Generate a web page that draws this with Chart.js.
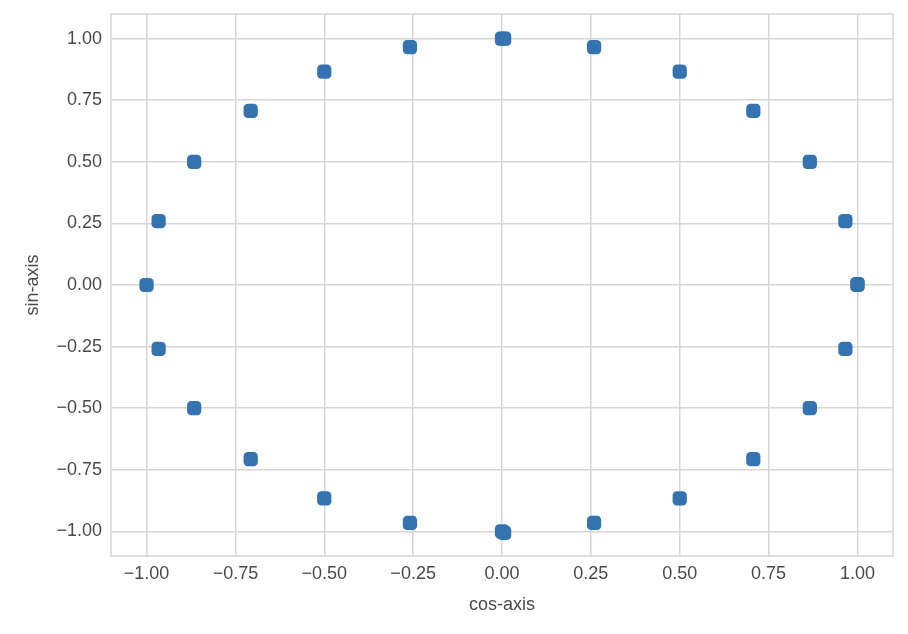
<!DOCTYPE html>
<html>
<head>
<meta charset="utf-8">
<script src="https://cdn.jsdelivr.net/npm/chart.js@4"></script>
<style>
  html, body { margin: 0; padding: 0; background: #fff; }
  #c { display: block; }
</style>
</head>
<body>
<canvas id="c" width="908" height="634"></canvas>
<script>
// Points (unit circle, every 15 degrees; a few points overlap)
const cosValues = [1.00, 0.966, 0.866, 0.707, 0.50, 0.259, 0.00, -0.259, -0.50, -0.707, -0.866, -0.966, -1.00,
                   -0.966, -0.866, -0.707, -0.50, -0.259, 0.00, 0.259, 0.50, 0.707, 0.866, 0.966,
                   1.00, 0.006, 0.006];
const sinValues = [0.00, 0.259, 0.50, 0.707, 0.866, 0.966, 1.00, 0.966, 0.866, 0.707, 0.50, 0.259, 0.00,
                   -0.259, -0.50, -0.707, -0.866, -0.966, -1.00, -0.966, -0.866, -0.707, -0.50, -0.259,
                   0.004, 1.00, -1.006];
const xTickValues = [-1.00, -0.75, -0.50, -0.25, 0.00, 0.25, 0.50, 0.75, 1.00];
const yTickValues = [-1.00, -0.75, -0.50, -0.25, 0.00, 0.25, 0.50, 0.75, 1.00];
const xLabel = 'cos-axis';
const yLabel = 'sin-axis';

const points = cosValues.map((x, i) => ({ x: x, y: sinValues[i] }));

const fmt = v => (v < 0 ? '\u2212' : '') + Math.abs(v).toFixed(2);
const FONT = "'Liberation Sans', Arial, sans-serif";
const TXT = '#4a4a4a';
const GRID = '#d6d6d6';

const framePlugin = {
  id: 'frame',
  beforeDatasetsDraw(chart) {
    const a = chart.chartArea, ctx = chart.ctx;
    ctx.save();
    ctx.strokeStyle = GRID;
    ctx.lineWidth = 1.5;
    ctx.strokeRect(a.left, a.top, a.right - a.left, a.bottom - a.top);
    ctx.restore();
  }
};

new Chart(document.getElementById('c'), {
  type: 'scatter',
  data: {
    datasets: [{
      data: points,
      pointStyle: 'rectRounded',
      pointRadius: 8.3,
      pointHoverRadius: 8.3,
      backgroundColor: '#3572b0',
      borderColor: '#3572b0',
      borderWidth: 0
    }]
  },
  plugins: [framePlugin],
  options: {
    responsive: false,
    animation: false,
    layout: { padding: { left: 0, right: 15, top: 14, bottom: 0 } },
    plugins: { legend: { display: false }, tooltip: { enabled: false } },
    scales: {
      x: {
        type: 'linear',
        min: -1.1, max: 1.1,
        afterBuildTicks: s => { s.ticks = xTickValues.map(v => ({ value: v })); },
        afterFit: s => { s.height = 78; s.paddingLeft = 0; s.paddingRight = 0; },
        grid: { color: GRID, lineWidth: 1.5, drawTicks: false },
        border: { display: false },
        ticks: { padding: 7, color: TXT, font: { family: FONT, size: 18 }, callback: v => fmt(v), maxRotation: 0 },
        title: { display: true, text: xLabel, color: TXT, font: { family: FONT, size: 18 }, padding: { top: 0, bottom: 18 } }
      },
      y: {
        type: 'linear',
        min: -1.1, max: 1.1,
        afterBuildTicks: s => { s.ticks = yTickValues.map(v => ({ value: v })); },
        afterFit: s => { s.width = 111; s.paddingTop = 0; s.paddingBottom = 0; },
        grid: { color: GRID, lineWidth: 1.5, drawTicks: false },
        border: { display: false },
        ticks: { padding: 9, color: TXT, font: { family: FONT, size: 18 }, callback: v => fmt(v) },
        title: { display: true, text: yLabel, color: TXT, font: { family: FONT, size: 18 }, padding: { top: 22, bottom: 0 } }
      }
    }
  }
});
</script>
</body>
</html>
